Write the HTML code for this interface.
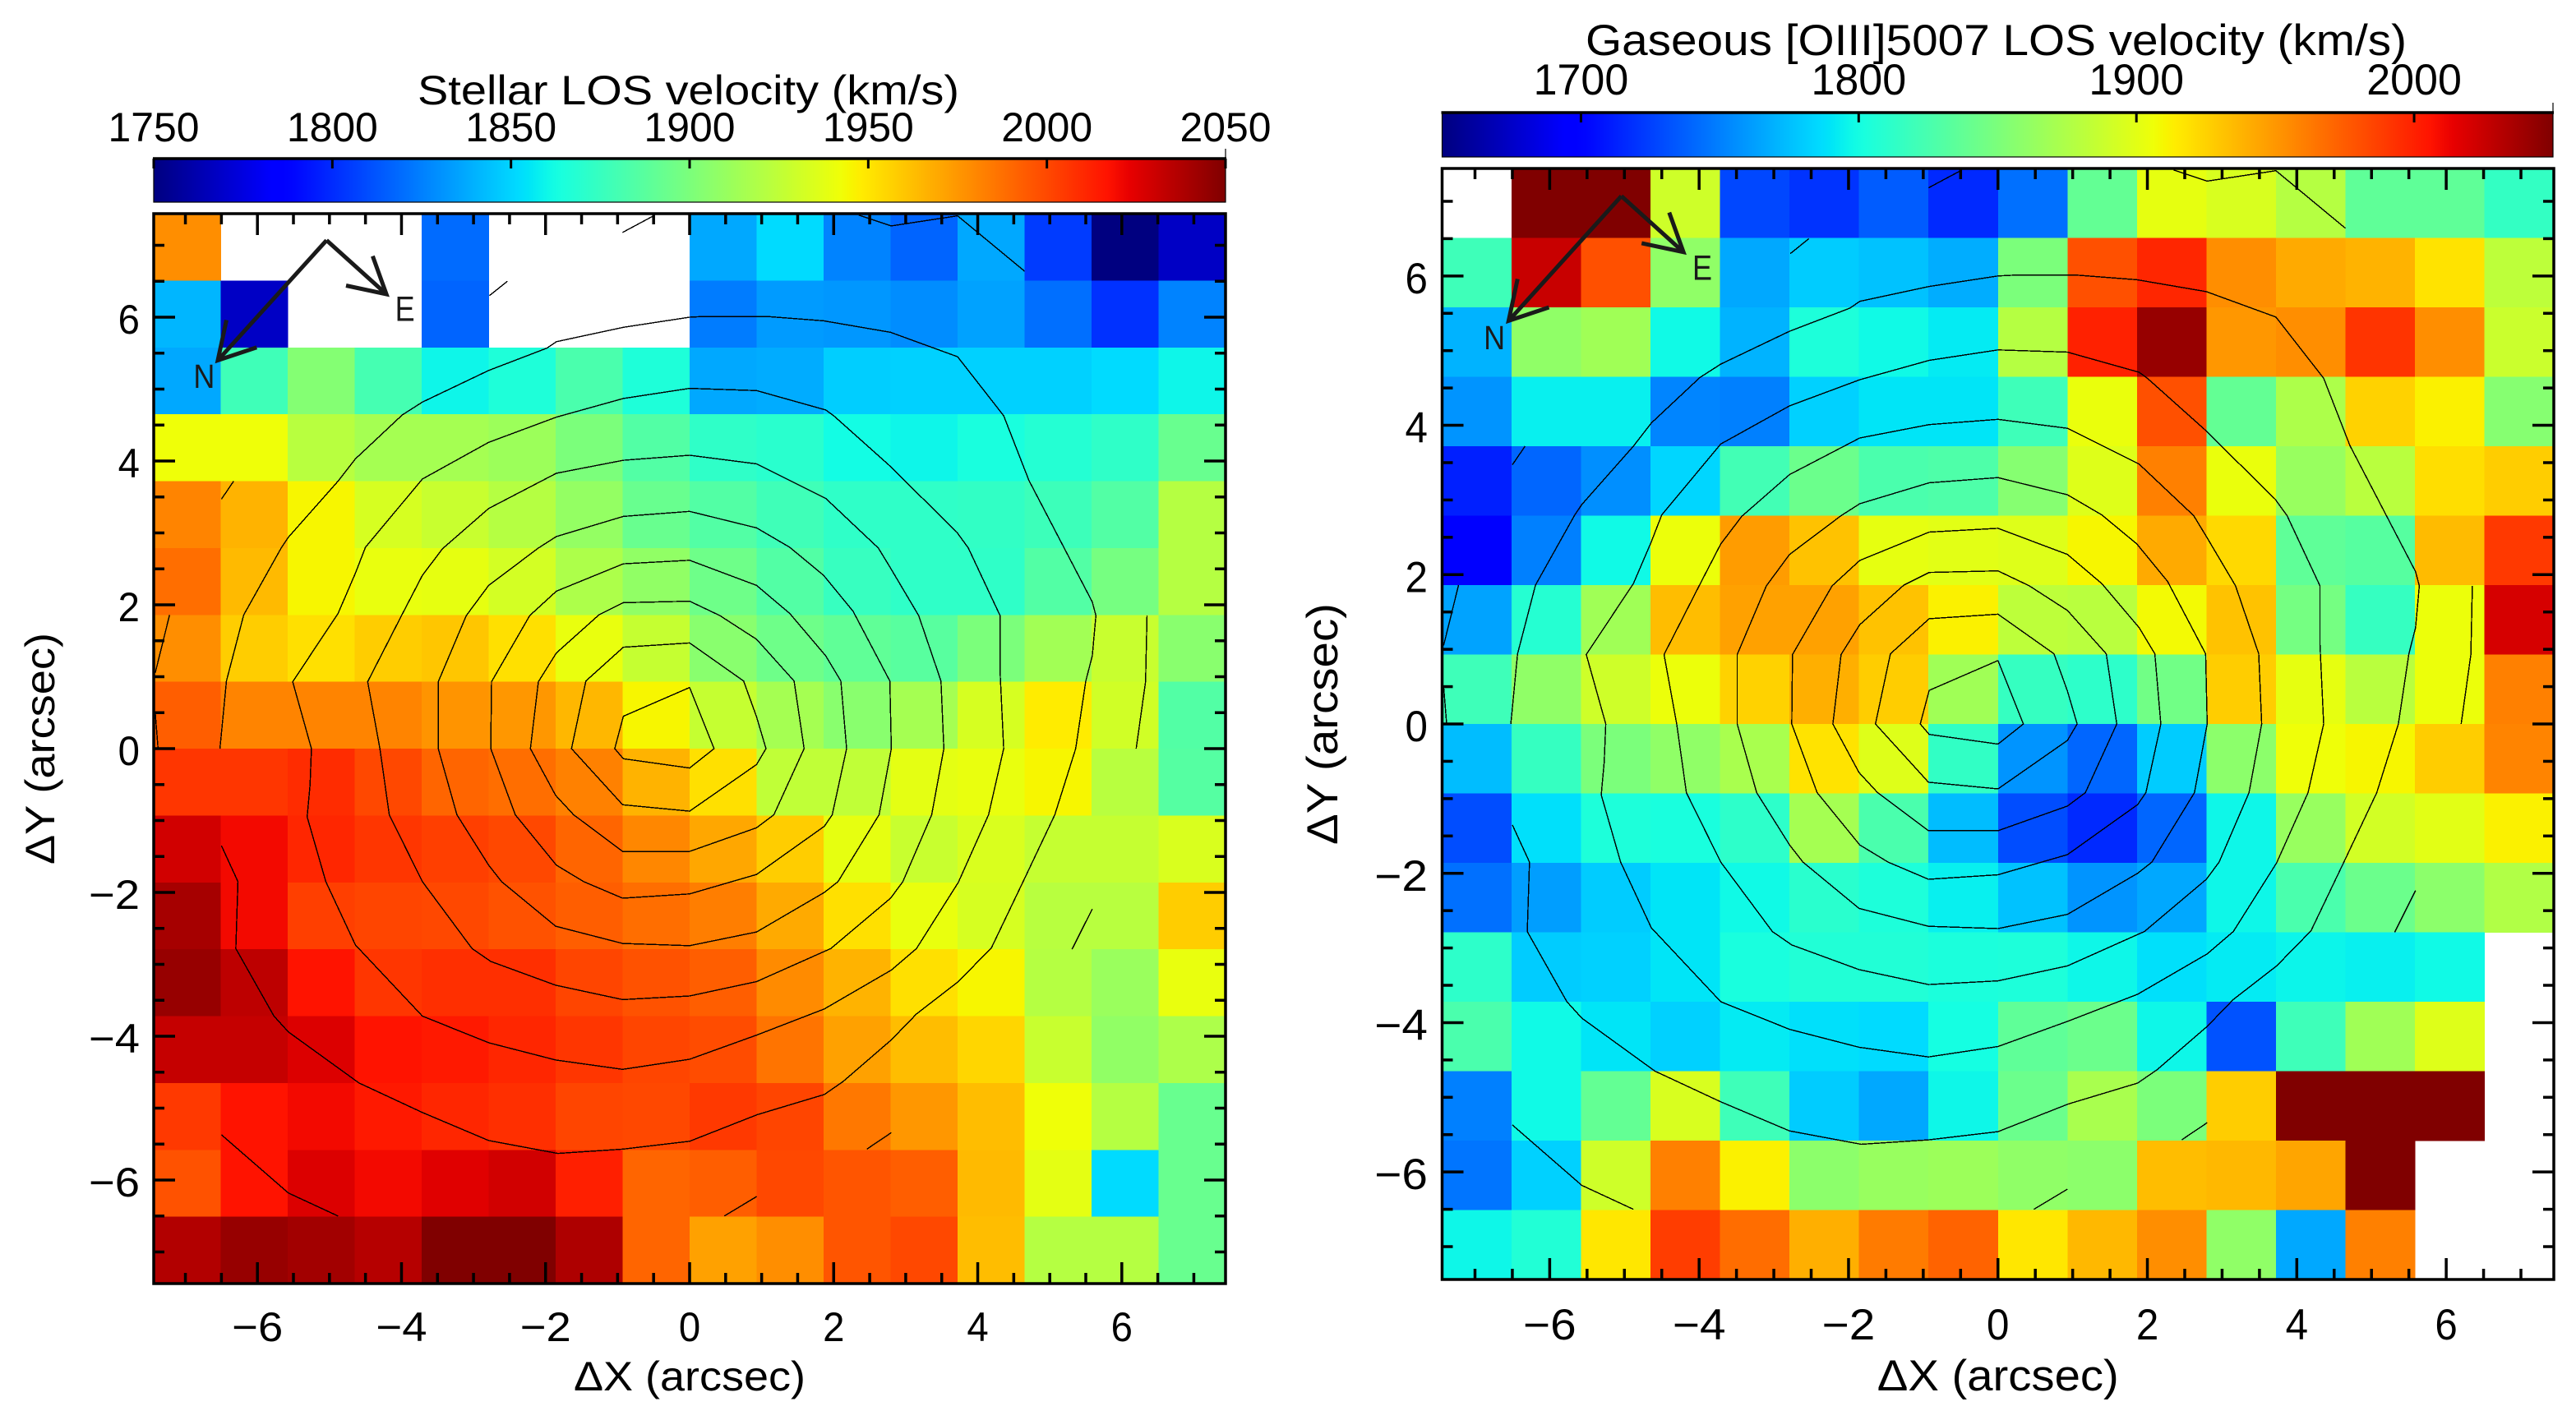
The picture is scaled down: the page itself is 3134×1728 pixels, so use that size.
<!DOCTYPE html>
<html lang="en">
<head>
<meta charset="utf-8">
<title>Stellar and gaseous LOS velocity maps</title>
<style>
html,body{margin:0;padding:0;background:#fff;}
body{width:3134px;height:1728px;overflow:hidden;}
svg{display:block;}
text{font-family:"Liberation Sans",sans-serif;fill:#000;}
</style>
</head>
<body>
<svg id="figure" xmlns="http://www.w3.org/2000/svg" width="3134" height="1728" viewBox="0 0 3134 1728">
  <rect x="0" y="0" width="3134" height="1728" fill="#fff"/>
</svg>
<script>
const stellarTicks = [1750,1800,1850,1900,1950,2000,2050];
const gasTicks = [1700,1800,1900,2000];
const axisMajorTicks = [-6,-4,-2,0,2,4,6];
const axisMinorTicks = [-7,-6.5,-5.5,-5,-4.5,-3.5,-3,-2.5,-1.5,-1,-0.5,0.5,1,1.5,2.5,3,3.5,4.5,5,5.5,6.5,7];
const stellarTitle = "Stellar LOS velocity (km/s)";
const gasTitle = "Gaseous [OIII]5007 LOS velocity (km/s)";

const stellarVelocity = [
[1978,null,null,null,1819,null,null,null,1837,1852,1826,1817,1837,1805,1750,1768],
[1841,1768,null,null,1817,null,null,null,1824,1833,1832,1829,1835,1820,1802,1826],
[1837,1878,1903,1880,1860,1866,1882,1866,1837,1838,1848,1849,1849,1849,1852,1860],
[1942,1942,1922,1915,1915,1912,1900,1885,1872,1870,1862,1860,1864,1868,1872,1893],
[1981,1966,1945,1933,1928,1921,1909,1893,1885,1878,1872,1872,1873,1877,1885,1921],
[1988,1964,1945,1940,1939,1932,1918,1908,1895,1885,1875,1872,1872,1885,1898,1921],
[1978,1958,1952,1958,1960,1952,1940,1927,1905,1895,1890,1887,1900,1914,1928,1905],
[1993,1981,1981,1981,1976,1975,1965,1945,1927,1915,1905,1915,1933,1948,1931,1885],
[2006,2006,2009,2000,1991,1988,1982,1966,1952,1925,1925,1938,1940,1945,1922,1886],
[2029,2020,2011,2006,2003,2000,1991,1980,1970,1958,1939,1928,1934,1927,1927,1934],
[2040,2020,2003,2001,2000,1997,1993,1988,1983,1969,1952,1940,1933,1922,1922,1958],
[2044,2034,2017,2006,2008,2008,2001,1997,1993,1979,1966,1952,1945,1921,1911,1940],
[2032,2032,2026,2017,2015,2011,2006,2001,1999,1986,1972,1963,1955,1928,1908,1918],
[2005,2017,2020,2015,2011,2008,2001,2000,2005,2001,1985,1975,1963,1942,1921,1893],
[1997,2017,2026,2020,2025,2029,2013,1991,1993,2000,1996,1993,1964,1938,1852,1893],
[2037,2044,2041,2036,2050,2050,2038,1991,1972,1978,1996,2000,1963,1921,1921,1893]
];

const gasVelocity = [
[null,2050,2050,1890,1728,1720,1736,1716,1744,1838,1902,1895,1878,1836,1836,1815],
[1820,2025,1980,1860,1766,1780,1776,1768,1850,1980,1998,1954,1942,1938,1918,1882],
[1770,1860,1868,1798,1770,1804,1798,1792,1878,2000,2042,1950,1954,1992,1954,1888],
[1758,1794,1794,1752,1750,1782,1790,1790,1820,1904,1980,1838,1874,1925,1912,1855],
[1712,1740,1756,1784,1822,1842,1826,1828,1855,1898,1960,1904,1864,1880,1920,1927],
[1698,1750,1798,1905,1948,1932,1902,1900,1898,1910,1942,1922,1836,1832,1935,1990],
[1764,1808,1868,1934,1946,1946,1932,1912,1882,1880,1908,1932,1847,1816,1905,2020],
[1820,1860,1890,1905,1925,1940,1927,1868,1816,1812,1845,1927,1902,1880,1905,1960],
[1774,1816,1850,1860,1872,1918,1898,1814,1758,1740,1780,1858,1906,1910,1927,1958],
[1730,1788,1804,1802,1812,1870,1826,1774,1730,1716,1740,1797,1864,1892,1900,1912],
[1744,1762,1780,1790,1798,1810,1804,1794,1776,1758,1766,1797,1826,1842,1858,1876],
[1812,1780,1782,1790,1802,1806,1806,1803,1804,1797,1788,1792,1796,1794,1798,null],
[1826,1798,1790,1782,1792,1788,1786,1800,1836,1842,1797,1732,1820,1868,1898,null],
[1750,1798,1838,1895,1820,1780,1766,1797,1842,1872,1850,1927,2050,2050,2050,null],
[1746,1782,1890,1960,1912,1858,1864,1866,1860,1858,1934,1936,1944,2050,null,null],
[1797,1806,1916,1988,1968,1940,1962,1972,1916,1936,1954,1860,1766,1960,null,null]
];

/* contour polylines, in arcsec (x, y pairs) */
const contourA = [[-6.52,0],[-6.43,.94],[-6.19,1.86],[-5.67,2.79],[-5.57,2.94],[-4.88,3.72],[-4.64,4.03],[-3.99,4.64],[-3.71,4.82],[-2.79,5.26],[-1.98,5.57],[-1.85,5.66],[-.92,5.86],[0,6],[.2,6.01],[1.07,6.01],[1.86,5.95],[2.79,5.79],[3.72,5.45],[4.36,4.63],[4.71,3.73],[5.59,2.04],[5.64,1.85],[5.59,1.29],[5.5,.94],[5.36,0],[5.07,-.92],[4.63,-1.85],[4.19,-2.77],[3.73,-3.24],[3.15,-3.69],[2.8,-4.05],[2.13,-4.63],[1.87,-4.81],[.94,-5.09],[0,-5.46],[-.93,-5.57],[-1.83,-5.63],[-2.79,-5.45],[-3.71,-5.06],[-4.59,-4.65],[-5.57,-3.94],[-5.77,-3.72],[-6.3,-2.78],[-6.27,-1.85],[-6.5,-1.35]];
const contourB = [[0,5.01],[.93,4.98],[1.89,4.71],[2,4.63],[2.76,3.95],[3.71,3.01],[3.87,2.79],[4.31,1.85],[4.31,1.07],[4.36,0],[4.15,-.92],[3.73,-1.86],[3.15,-2.78],[2.8,-3.08],[1.87,-3.62],[.94,-3.98],[0,-4.32],[-.93,-4.46],[-1.86,-4.33],[-2.79,-4.09],[-3.71,-3.72],[-4.64,-2.73],[-5.05,-1.85],[-5.31,-.95],[-5.27,-.51],[-5.25,0],[-5.51,.93],[-4.88,1.88],[-4.64,2.44],[-4.5,2.8],[-3.71,3.75],[-2.79,4.26],[-1.85,4.61],[-.92,4.87],[0,5.01]];
const contourC = [[0,4.08],[.93,3.96],[1.89,3.48],[2.62,2.79],[2.79,2.51],[3.18,1.85],[3.49,.94],[3.53,0],[3.36,-.92],[2.96,-1.85],[2.79,-2.08],[1.96,-2.78],[1.87,-2.82],[.93,-3.24],[0,-3.44],[-.93,-3.49],[-1.86,-3.29],[-2.76,-2.96],[-3.02,-2.78],[-3.71,-1.85],[-4.17,-.92],[-4.3,0],[-4.47,.93],[-4,1.85],[-3.71,2.41],[-3.43,2.78],[-2.79,3.34],[-1.85,3.83],[-.92,4.01],[0,4.08]];
const contourD = [[0,3.3],[.93,3.07],[1.39,2.8],[1.86,2.41],[2.27,1.91],[2.78,.94],[2.8,0],[2.63,-.92],[2.06,-1.85],[1.87,-2],[.93,-2.55],[0,-2.74],[-.93,-2.71],[-1.86,-2.47],[-2.61,-1.85],[-2.79,-1.62],[-3.23,-.92],[-3.49,0],[-3.49,.93],[-3.1,1.85],[-2.79,2.27],[-2.1,2.79],[-1.85,2.95],[-.92,3.23],[0,3.3]];
const contourE = [[0,2.62],[.93,2.27],[1.39,1.88],[1.89,1.29],[2.1,.94],[2.18,0],[1.98,-.92],[1.87,-1.08],[.93,-1.75],[0,-2.02],[-.93,-2.08],[-1.47,-1.85],[-1.85,-1.62],[-2.42,-.92],[-2.76,0],[-2.75,.93],[-2.22,1.85],[-1.85,2.19],[-.92,2.57],[0,2.62]];
const contourF = [[0,2.05],[.42,1.85],[.93,1.52],[1.45,.94],[1.59,0],[1.17,-.92],[.93,-1.1],[0,-1.43],[-.93,-1.43],[-1.61,-.92],[-1.86,-.65],[-2.21,0],[-2.1,.93],[-1.85,1.33],[-1.26,1.86],[-.92,2.03],[0,2.05]];
const contourG = [[0,1.47],[.75,.94],[.93,.44],[1.06,0],[.93,-.22],[0,-.87],[-.93,-.78],[-1.64,0],[-1.44,.94],[-.92,1.41],[0,1.47]];
const contourH = [[0,.85],[.34,0],[0,-.27],[-.92,-.14],[-1.04,0],[-.92,.45],[0,.85]];
const contourFragments = [
[[-6.5,3.47],[-6.33,3.72]],
[[-7.22,1.86],[-7.42,1.05]],
[[-7.42,.51],[-7.38,0]],
[[-.93,7.18],[-.5,7.41]],
[[-2.78,6.3],[-2.53,6.5]],
[[2.35,7.42],[2.8,7.27],[3.72,7.41],[4.65,6.64]],
[[6.35,1.85],[6.33,.93],[6.2,0]],
[[5.31,-2.79],[5.59,-2.23]],
[[2.46,-5.57],[2.8,-5.34]],
[[.48,-6.5],[.93,-6.23]],
[[-6.5,-5.37],[-5.57,-6.18],[-4.88,-6.5]]
];

/* compass annotation, in arcsec */
const compassNorth = [[-5.04,7.07],[-6.55,5.4]];
const compassNorthHead = [[-6.43,5.96],[-6.55,5.4],[-6.01,5.58]];
const compassEast = [[-5.04,7.07],[-4.21,6.32]];
const compassEastHead = [[-4.40,6.85],[-4.21,6.32],[-4.77,6.44]];

const SVGNS = "http://www.w3.org/2000/svg";
const svg = document.getElementById("figure");

function jet(t){
  t = Math.max(0, Math.min(1, t));
  let r, g, b;
  if (t < .35) r = 0; else if (t < .66) r = (t-.35)/.31; else if (t < .89) r = 1; else r = 1-(t-.89)/.11*.5;
  if (t < .125) g = 0; else if (t < .375) g = (t-.125)*4; else if (t < .64) g = 1; else if (t < .91) g = 1-(t-.64)/.27; else g = 0;
  if (t < .11) b = .5+t/.11*.5; else if (t < .34) b = 1; else if (t < .65) b = 1-(t-.34)/.31; else b = 0;
  return "rgb(" + Math.round(r*255) + "," + Math.round(g*255) + "," + Math.round(b*255) + ")";
}

function make(parent, tag, attrs){
  const el = document.createElementNS(SVGNS, tag);
  for (const k in attrs) el.setAttribute(k, attrs[k]);
  parent.appendChild(el);
  return el;
}

function fmt(v){
  return (v < 0 ? "\u2212" : "") + Math.abs(v);
}

function drawPanel(p){
  const xMin = -7.44, xMax = 7.44, yMin = -7.44, yMax = 7.44;
  const xs = v => p.x0 + (v - xMin) / (xMax - xMin) * (p.x1 - p.x0);
  const ys = v => p.y1 - (v - yMin) / (yMax - yMin) * (p.y1 - p.y0);
  const cs = v => (v - p.vmin) / (p.vmax - p.vmin);
  const cbx = v => p.x0 + cs(v) * (p.cbx1 - p.x0);
  const tall = p.fs * 1.07;

  const g = make(svg, "g", {});
  
  

  /* colour bar */
  const gradId = p.name + "-gradient";
  const defs = make(g, "defs", {});
  const grad = make(defs, "linearGradient", {id: gradId, x1: "0", x2: "1", y1: "0", y2: "0"});
  for (let i = 0; i <= 100; i++) {
    make(grad, "stop", {offset: (i/100), "stop-color": jet(i/100)});
  }
  const bar = make(g, "rect", {x: p.x0, y: p.cby0, width: p.cbx1 - p.x0, height: p.cby1 - p.cby0, fill: "url(#" + gradId + ")", stroke: "#000", "stroke-width": 1.2});
  
  
  const barTop = make(g, "line", {x1: p.x0 - 1, x2: p.cbx1 + 1, y1: p.cby0, y2: p.cby0, stroke: "#000", "stroke-width": 3.5});
  
  
  const endMark = make(g, "line", {x1: p.cbx1, x2: p.cbx1, y1: p.cby0 - 12, y2: p.cby0, stroke: "#000", "stroke-width": 1.2});
  
  

  p.ticks.forEach(function(v){
    const t = make(g, "line", {x1: cbx(v), x2: cbx(v), y1: p.cby0, y2: p.cby0 + 12, stroke: "#000", "stroke-width": 3});
    
    
    const l = make(g, "text", {x: cbx(v), y: p.cbLabelY, "text-anchor": "middle", "font-size": tall, textLength: p.fs * 2.36, lengthAdjust: "spacingAndGlyphs"});
    l.textContent = v;
    
    
  });
  const title = make(g, "text", {x: p.titleX, y: p.titleY, "font-size": tall, textLength: p.titleLen, lengthAdjust: "spacingAndGlyphs"});
  title.textContent = p.title;
  
  

  /* heat map */
  const nRows = p.data.length, nCols = p.data[0].length;
  const dx = (xMax - xMin) / nCols, dy = (yMax - yMin) / nRows;
  const cells = make(g, "g", {"shape-rendering": "crispEdges"});
  
  
  p.data.forEach(function(row, r){
    row.forEach(function(v, c){
      if (v === null) return;
      const x0 = xs(xMin + c * dx), x1 = xs(xMin + (c + 1) * dx);
      const y0 = ys(yMax - r * dy), y1 = ys(yMax - (r + 1) * dy);
      const cell = make(cells, "rect", {x: x0, y: y0, width: x1 - x0 + .5, height: y1 - y0 + .5, fill: jet(cs(v))});
      
      
    });
  });

  /* contours */
  const clipId = p.name + "-clip";
  const clip = make(defs, "clipPath", {id: clipId});
  make(clip, "rect", {x: p.x0, y: p.y0, width: p.x1 - p.x0, height: p.y1 - p.y0});
  const contours = make(g, "g", {"clip-path": "url(#" + clipId + ")", fill: "none", stroke: "#000", "stroke-width": 1.4, "shape-rendering": "crispEdges"});
  
  
  [contourA, contourB, contourC, contourD, contourE, contourF, contourG, contourH].concat(contourFragments).forEach(function(line){
    const pts = line.map(q => xs(q[0]).toFixed(1) + "," + ys(q[1]).toFixed(1)).join(" ");
    const pl = make(contours, "polyline", {points: pts});
    
    
  });

  /* compass */
  const compass = make(g, "g", {fill: "none", stroke: "#1a1a1a", "stroke-width": 5});
  
  
  [compassNorth, compassNorthHead, compassEast, compassEastHead].forEach(function(line){
    const pts = line.map(q => xs(q[0]).toFixed(1) + "," + ys(q[1]).toFixed(1)).join(" ");
    const pl = make(compass, "polyline", {points: pts});
    
    
  });
  const nLabel = make(g, "text", {x: xs(-6.74), y: ys(5.02), "text-anchor": "middle", "font-size": 41, textLength: 26, lengthAdjust: "spacingAndGlyphs", style: "fill:#1a1a1a"});
  nLabel.textContent = "N";
  
  
  const eLabel = make(g, "text", {x: xs(-4.09), y: ys(5.95), "font-size": 43, textLength: 24, lengthAdjust: "spacingAndGlyphs", style: "fill:#1a1a1a"});
  eLabel.textContent = "E";
  
  

  /* frame */
  const frame = make(g, "rect", {x: p.x0, y: p.y0, width: p.x1 - p.x0, height: p.y1 - p.y0, fill: "none", stroke: "#000", "stroke-width": 3.5});
  
  

  /* ticks */
  function ticks(values, len){
    values.forEach(function(v){
      const X = xs(v), Y = ys(v);
      [[X, p.y1, X, p.y1 - len], [X, p.y0, X, p.y0 + len], [p.x0, Y, p.x0 + len, Y], [p.x1, Y, p.x1 - len, Y]].forEach(function(s){
        const t = make(g, "line", {x1: s[0], y1: s[1], x2: s[2], y2: s[3], stroke: "#000", "stroke-width": 3.5});
        
        
      });
    });
  }
  ticks(axisMajorTicks, 26);
  ticks(axisMinorTicks, 13);

  axisMajorTicks.forEach(function(v){
    const neg = v < 0;
    const xl = make(g, "text", {x: xs(v), y: p.xLabelY, "text-anchor": "middle", "font-size": tall, textLength: p.fs * (neg ? 1.32 : .56), lengthAdjust: "spacingAndGlyphs"});
    xl.textContent = fmt(v);
    
    
    const yl = make(g, "text", {x: p.yLabelX, y: ys(v) + p.fs * .43, "text-anchor": "end", "font-size": tall, textLength: p.fs * (neg ? 1.32 : .56), lengthAdjust: "spacingAndGlyphs"});
    yl.textContent = fmt(v);
    
    
  });

  const xTitle = make(g, "text", {x: (p.x0 + p.x1) / 2, y: p.xTitleY, "text-anchor": "middle", "font-size": tall, textLength: p.xTitleLen, lengthAdjust: "spacingAndGlyphs"});
  xTitle.textContent = "\u0394X (arcsec)";
  
  
  const cy = (p.y0 + p.y1) / 2;
  const yTitle = make(g, "text", {x: 0, y: 0, transform: "translate(" + p.yTitleX + "," + cy + ") rotate(-90)", "text-anchor": "middle", "font-size": tall, textLength: p.xTitleLen, lengthAdjust: "spacingAndGlyphs"});
  yTitle.textContent = "\u0394Y (arcsec)";
  
  
}

drawPanel({
  name: "stellar", data: stellarVelocity, vmin: 1750, vmax: 2050, ticks: stellarTicks, title: stellarTitle,
  x0: 187, x1: 1491, y0: 260, y1: 1562, cbx1: 1491, cby0: 193, cby1: 246, cbLabelY: 172,
  titleX: 508, titleY: 127, titleLen: 659, fs: 47, xLabelY: 1632, yLabelX: 170, xTitleY: 1692, xTitleLen: 282, yTitleX: 66
});
drawPanel({
  name: "gas", data: gasVelocity, vmin: 1650, vmax: 2050, ticks: gasTicks, title: gasTitle,
  x0: 1754.5, x1: 3107, y0: 205, y1: 1557, cbx1: 3106, cby0: 137, cby1: 191, cbLabelY: 115,
  titleX: 1929, titleY: 67, titleLen: 999, fs: 49, xLabelY: 1630, yLabelX: 1737, xTitleY: 1692, xTitleLen: 294, yTitleX: 1627
});
</script>
</body>
</html>
